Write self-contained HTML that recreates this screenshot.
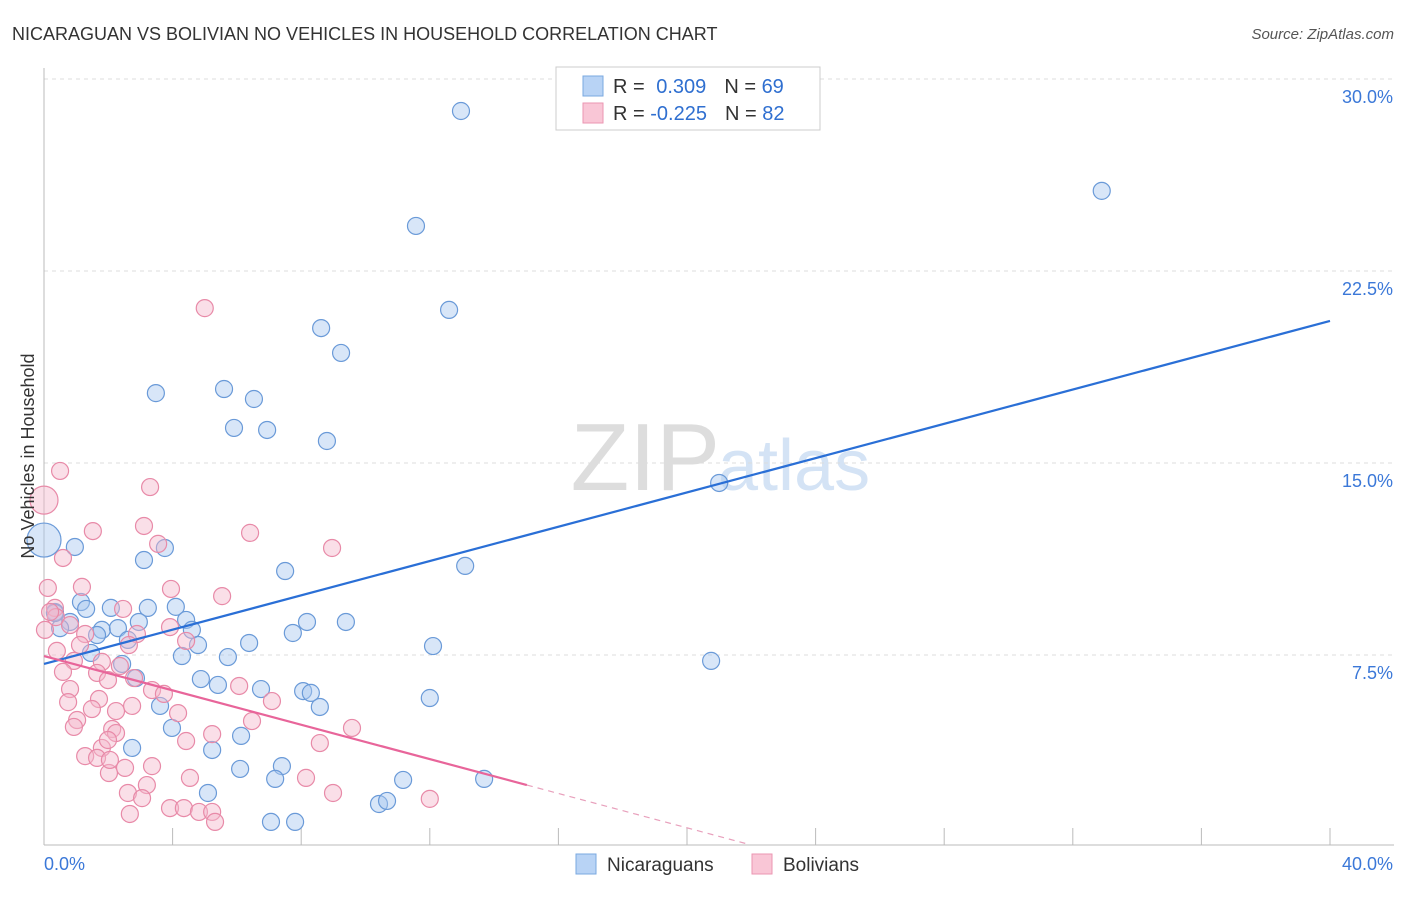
<!DOCTYPE html>
<html><head><meta charset="utf-8"><style>
body{margin:0;background:#fff;font-family:"Liberation Sans",sans-serif}
svg text{font-family:"Liberation Sans",sans-serif}
</style></head><body>
<svg width="1406" height="892" xmlns="http://www.w3.org/2000/svg">
<text x="12" y="40" font-size="18" fill="#333">NICARAGUAN VS BOLIVIAN NO VEHICLES IN HOUSEHOLD CORRELATION CHART</text>
<text x="1394" y="39" font-size="15" fill="#555" font-style="italic" text-anchor="end">Source: ZipAtlas.com</text>
<text x="720" y="490" font-size="96" fill="#ddd" text-anchor="end" font-family="Liberation Serif">ZIP</text>
<text x="718" y="490" font-size="72" fill="#d4e3f5">atlas</text>
<g id="grid"></g><g id="axes"></g><g id="pts"></g><g id="lines"></g>
<text transform="translate(34,456) rotate(-90)" font-size="18" fill="#333" text-anchor="middle">No Vehicles in Household</text>
<g>
<rect x="556" y="67" width="264" height="63" fill="#fff" stroke="#ccc"/>
<rect x="583" y="76" width="20" height="20" fill="#b8d3f5" stroke="#7aa8e0"/>
<rect x="583" y="103" width="20" height="20" fill="#f9c6d6" stroke="#eb96b2"/>
<text x="613" y="93" font-size="20" fill="#333">R = <tspan fill="#2f6fd0" dx="6">0.309</tspan><tspan dx="18" fill="#333">N = </tspan><tspan fill="#2f6fd0">69</tspan></text>
<text x="613" y="120" font-size="20" fill="#333">R = <tspan fill="#2f6fd0">-0.225</tspan><tspan dx="18" fill="#333">N = </tspan><tspan fill="#2f6fd0">82</tspan></text>
</g>
<g>
<rect x="576" y="854" width="20" height="20" fill="#b8d3f5" stroke="#7aa8e0"/>
<text x="607" y="871" font-size="19" fill="#333">Nicaraguans</text>
<rect x="752" y="854" width="20" height="20" fill="#f9c6d6" stroke="#eb96b2"/>
<text x="783" y="871" font-size="19" fill="#333">Bolivians</text>
</g>
</svg>
<script>
const yTicks=[7.5,15,22.5,30];
const yTickLabels=["7.5%","15.0%","22.5%","30.0%"];
const xTicks=[0,4,8,12,16,20,24,28,32,36,40];
const blueX=[12.97,32.9,11.57,12.6,8.62,9.24,3.48,5.6,6.53,5.91,6.94,8.8,21.0,0.96,3.76,3.11,7.5,13.1,0.34,1.15,1.31,2.08,3.23,4.1,2.95,4.42,8.18,9.39,0.81,1.8,2.3,4.6,0.5,1.65,2.61,4.79,6.38,7.74,12.1,4.29,5.72,20.75,1.46,2.43,2.86,4.88,5.41,6.75,8.06,8.3,3.61,8.58,12.0,3.98,6.13,2.74,5.23,6.1,7.4,7.19,11.17,13.69,5.1,10.42,10.67,7.06,7.81,0.34];
const blueY=[28.75,25.63,24.26,20.98,20.27,19.3,17.73,17.89,17.5,16.37,16.29,15.86,14.22,11.72,11.68,11.21,10.78,10.98,9.18,9.57,9.3,9.34,9.34,9.38,8.79,8.87,8.79,8.79,8.79,8.48,8.55,8.48,8.55,8.28,8.09,7.89,7.97,8.36,7.85,7.46,7.42,7.27,7.58,7.15,6.6,6.56,6.33,6.17,6.09,6.02,5.51,5.47,5.82,4.65,4.34,3.87,3.79,3.05,3.16,2.66,2.62,2.66,2.11,1.68,1.8,0.98,0.98,9.14];
const pinkX=[5.0,0.5,3.3,3.11,1.52,6.41,3.55,8.96,0.59,0.12,1.18,3.95,5.54,0.34,2.46,0.37,0.81,3.92,1.28,2.89,1.12,2.64,4.42,0.4,0.93,1.8,2.36,0.59,1.65,1.99,2.8,3.36,3.73,0.81,1.71,0.75,6.07,7.09,1.49,2.24,2.74,4.17,1.03,0.93,6.47,9.58,2.12,2.24,4.42,5.23,8.58,1.8,1.28,1.65,2.52,3.36,2.02,4.54,8.15,2.61,3.2,3.05,8.99,12.0,3.92,4.35,2.67,4.82,5.23,5.32,2.05,1.99,0.03,0.19];
const pinkY=[21.05,14.69,14.06,12.54,12.34,12.27,11.84,11.68,11.29,10.12,10.16,10.08,9.8,9.34,9.3,8.98,8.67,8.59,8.32,8.32,7.89,7.89,8.05,7.66,7.27,7.23,7.07,6.84,6.8,6.52,6.6,6.13,5.98,6.17,5.78,5.66,6.29,5.7,5.39,5.31,5.51,5.23,4.96,4.69,4.92,4.65,4.61,4.45,4.14,4.41,4.06,3.87,3.55,3.48,3.09,3.16,2.89,2.7,2.7,2.11,2.42,1.91,2.11,1.88,1.52,1.52,1.29,1.37,1.37,0.98,3.4,4.18,8.48,9.18];
const bigBlue=[0,11.99], bigPink=[0,13.55];
const blueTrend=[7.15,20.55], pinkTrend=[7.46,2.42], pinkSolidEnd=15.02, pinkDashEnd=21.9;
const X=v=>44+v*32.15, Y=v=>847-v*25.6;
const NS="http://www.w3.org/2000/svg";
function mk(tag,attrs,parent){const e=document.createElementNS(NS,tag);for(const k in attrs)e.setAttribute(k,attrs[k]);parent.appendChild(e);return e;}
const grid=document.getElementById('grid'),axes=document.getElementById('axes'),pts=document.getElementById('pts'),lines=document.getElementById('lines');
yTicks.forEach((t,i)=>{
 const l=mk('line',{x1:44,x2:1394,y1:Y(t),y2:Y(t),stroke:'#ddd','stroke-dasharray':'4,4'},grid);
 
 
 const tx=mk('text',{x:1393,y:Y(t)+24,'font-size':18,fill:'#3b78d8','text-anchor':'end'},grid);tx.textContent=yTickLabels[i];
 
 
});
const ax=mk('line',{x1:44,x2:1394,y1:845,y2:845,stroke:'#bbb'},axes);


const ay=mk('line',{x1:44,x2:44,y1:68,y2:845,stroke:'#bbb'},axes);


xTicks.forEach(t=>{const l=mk('line',{x1:X(t),x2:X(t),y1:828,y2:845,stroke:'#bbb'},axes);
 
 });
const x0=mk('text',{x:44,y:870,'font-size':18,fill:'#3b78d8'},axes);x0.textContent='0.0%';


const x1=mk('text',{x:1393,y:870,'font-size':18,fill:'#3b78d8','text-anchor':'end'},axes);x1.textContent='40.0%';


function dot(x,y,r,fill,stroke,name){const c=mk('circle',{cx:X(x),cy:Y(y),r:r,fill:fill,'fill-opacity':0.45,stroke:stroke,'stroke-width':1.2},pts);
 
 }
blueX.forEach((x,i)=>dot(x,blueY[i],8.5,'#a8c8f0','#6a9ad8','nicaraguan-point'));
pinkX.forEach((x,i)=>dot(x,pinkY[i],8.5,'#f5b8cc','#e88aa8','bolivian-point'));
dot(bigBlue[0],bigBlue[1],17,'#a8c8f0','#6a9ad8','nicaraguan-point-large');
dot(bigPink[0],bigPink[1],14,'#f5b8cc','#e88aa8','bolivian-point-large');
const bl=mk('line',{x1:X(0),y1:Y(blueTrend[0]),x2:X(40),y2:Y(blueTrend[1]),stroke:'#2a6fd6','stroke-width':2.2},lines);


const slope=(pinkTrend[1]-pinkTrend[0])/pinkSolidEnd;
const pl=mk('line',{x1:X(0),y1:Y(pinkTrend[0]),x2:X(pinkSolidEnd),y2:Y(pinkTrend[1]),stroke:'#e8659a','stroke-width':2.2},lines);


const pd=mk('line',{x1:X(pinkSolidEnd),y1:Y(pinkTrend[1]),x2:X(pinkDashEnd),y2:Y(pinkTrend[0]+slope*pinkDashEnd),stroke:'#e8a0bc','stroke-width':1.2,'stroke-dasharray':'6,5'},lines);


</script>
</body></html>
